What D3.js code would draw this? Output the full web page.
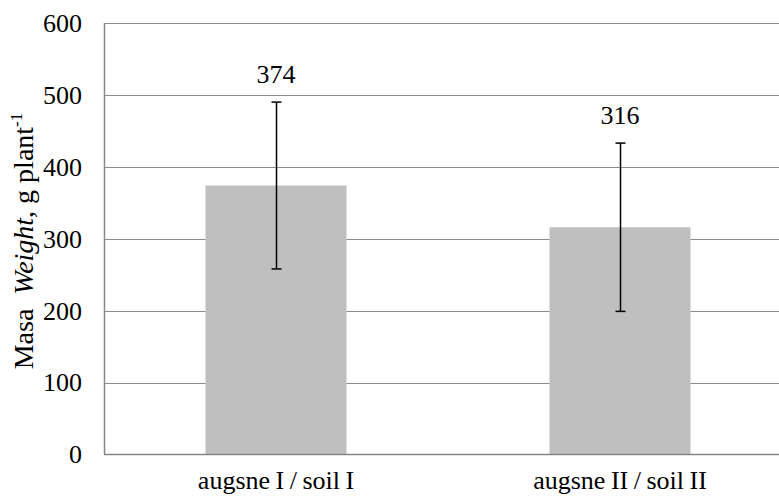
<!DOCTYPE html>
<html>
<head>
<meta charset="utf-8">
<script src="https://cdn.jsdelivr.net/npm/d3@7"></script>
<style>
  body { margin: 0; background: #fff; }
</style>
</head>
<body>
<div id="chart"></div>
<script>
// values
var categories = ["augsne I / soil I", "augsne II / soil II"];
var means = [374, 316];
var errors = [116, 117];
var yTicks = [0, 100, 200, 300, 400, 500, 600];

var width = 779, height = 499;
var margin = {top: 23, left: 104, bottom: 44};
var plotRight = 792; // plot runs a bit past the window edge
var serif = "'Liberation Serif', 'Times New Roman', 'DejaVu Serif', serif";

var svg = d3.select("#chart")
    .append("svg")
    .attr("width", width)
    .attr("height", height)
    .attr("font-family", serif)
    .style("display", "block");

var x = d3.scaleBand()
    .domain(categories)
    .range([margin.left, plotRight])
    .paddingInner(0.59)
    .paddingOuter(0.295);

var y = d3.scaleLinear()
    .domain([0, 600])
    .range([height - margin.bottom - 0.5, margin.top]);

// gridlines
svg.append("g")
  .selectAll("line")
  .data(yTicks.filter(d => d > 0))
  .enter().append("line")
    .attr("x1", margin.left)
    .attr("x2", width)
    .attr("y1", d => Math.round(y(d)) + 0.5)
    .attr("y2", d => Math.round(y(d)) + 0.5)
    .attr("stroke", "#8c8c8c")
    .attr("stroke-width", 1.2);

// bars
svg.append("g")
  .selectAll("rect")
  .data(means)
  .enter().append("rect")
    .attr("x", (d, i) => x(categories[i]))
    .attr("width", x.bandwidth())
    .attr("y", d => y(d))
    .attr("height", d => y(0) - y(d))
    .attr("fill", "#bfbfbf");

// axis lines
svg.append("line")
    .attr("x1", margin.left + 0.5).attr("x2", margin.left + 0.5)
    .attr("y1", y(600)).attr("y2", y(0))
    .attr("stroke", "#868686").attr("stroke-width", 1.5);
svg.append("line")
    .attr("x1", margin.left).attr("x2", width)
    .attr("y1", y(0)).attr("y2", y(0))
    .attr("stroke", "#868686").attr("stroke-width", 1.5);

// error bars
var err = svg.append("g").attr("stroke", "#000").attr("stroke-width", 1.5);
means.forEach(function (m, i) {
  var cx = Math.round(x(categories[i]) + x.bandwidth() / 2) + 0.5;
  var top = y(m + errors[i]), bot = y(m - errors[i]);
  err.append("line").attr("x1", cx).attr("x2", cx).attr("y1", top).attr("y2", bot);
  err.append("line").attr("x1", cx - 5).attr("x2", cx + 5).attr("y1", top).attr("y2", top);
  err.append("line").attr("x1", cx - 5).attr("x2", cx + 5).attr("y1", bot).attr("y2", bot);
});

// value labels above error bars
svg.append("g")
  .selectAll("text")
  .data(means)
  .enter().append("text")
    .attr("x", (d, i) => x(categories[i]) + x.bandwidth() / 2)
    .attr("y", (d, i) => y(d + errors[i]) - 19)
    .attr("text-anchor", "middle")
    .attr("font-size", 26)
    .text(d => d);

// y tick labels
svg.append("g")
  .selectAll("text")
  .data(yTicks)
  .enter().append("text")
    .attr("x", 82)
    .attr("y", d => y(d))
    .attr("dy", "0.34em")
    .attr("text-anchor", "end")
    .attr("font-size", 26)
    .text(d => d);

// category labels
svg.append("g")
  .selectAll("text")
  .data(categories)
  .enter().append("text")
    .attr("x", d => x(d) + x.bandwidth() / 2)
    .attr("y", 489)
    .attr("text-anchor", "middle")
    .attr("font-size", 26)
    .attr("word-spacing", -1)
    .text(d => d);

// y title
var title = svg.append("text")
    .attr("transform", "translate(33,241) rotate(-90)")
    .attr("text-anchor", "middle")
    .attr("font-size", 28);
title.append("tspan").text("Masa\u00a0\u00a0");
title.append("tspan").attr("font-style", "italic").text("Weight");
title.append("tspan").text(", g plant");
title.append("tspan").attr("font-size", 17).attr("dy", -11).text("-1");
</script>
</body>
</html>
